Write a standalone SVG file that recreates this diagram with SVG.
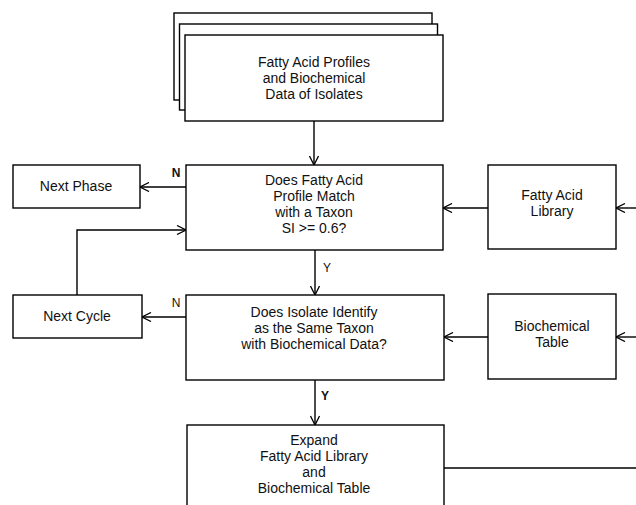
<svg xmlns="http://www.w3.org/2000/svg" width="636" height="505" viewBox="0 0 636 505">
<defs>
<marker id="arr" viewBox="0 0 10 10" refX="10" refY="5" markerWidth="10" markerHeight="10" markerUnits="userSpaceOnUse" orient="auto">
<path d="M1,0.5 L10,5 L1,9.5" fill="none" stroke="#000" stroke-width="1.3"/>
</marker>
<style>
rect{fill:#fff;stroke:#000;stroke-width:1.4}
.c line,.c path{stroke:#000;stroke-width:1.4;fill:none}
text{font-family:"Liberation Sans",Arial,sans-serif;font-size:14px;fill:#111;text-anchor:middle}
.lbl{font-weight:bold;font-size:12px}
</style>
</defs>
<rect x="0" y="0" width="636" height="505" style="fill:#fff;stroke:none"/>
<g id="isolates">
<rect x="174" y="13" width="258" height="87"/>
<rect x="179.5" y="24" width="258" height="86"/>
<rect x="185" y="35" width="258" height="86"/>
<text x="314" y="67">Fatty Acid Profiles</text>
<text x="314" y="83">and Biochemical</text>
<text x="314" y="99">Data of Isolates</text>
</g>
<g id="decision1">
<rect x="186" y="165" width="257" height="85"/>
<text x="314" y="185">Does Fatty Acid</text>
<text x="314" y="201">Profile Match</text>
<text x="314" y="217">with a Taxon</text>
<text x="314" y="233">SI &gt;= 0.6?</text>
</g>
<g id="nextphase">
<rect x="13" y="165" width="127" height="43"/>
<text x="76" y="191">Next  Phase</text>
</g>
<g id="falibrary">
<rect x="488" y="165" width="128" height="84"/>
<text x="552" y="200">Fatty Acid</text>
<text x="552" y="216">Library</text>
</g>
<g id="decision2">
<rect x="186" y="295" width="258" height="85"/>
<text x="314" y="317">Does Isolate Identify</text>
<text x="314" y="333">as the Same Taxon</text>
<text x="314" y="349">with Biochemical Data?</text>
</g>
<g id="nextcycle">
<rect x="13" y="295" width="129" height="43"/>
<text x="77" y="321">Next Cycle</text>
</g>
<g id="biotable">
<rect x="488" y="294" width="128" height="85"/>
<text x="552" y="331">Biochemical</text>
<text x="552" y="347">Table</text>
</g>
<g id="expand">
<rect x="187" y="425" width="257" height="90"/>
<text x="314" y="445">Expand</text>
<text x="314" y="461">Fatty Acid Library</text>
<text x="314" y="477">and</text>
<text x="314" y="493">Biochemical Table</text>
</g>
<g class="c" id="connectors">
<line x1="314" y1="121" x2="314" y2="165" marker-end="url(#arr)"/>
<line x1="186" y1="187" x2="140" y2="187" marker-end="url(#arr)"/>
<path d="M77,295 V230 H186" marker-end="url(#arr)"/>
<line x1="488" y1="208" x2="443" y2="208" marker-end="url(#arr)"/>
<line x1="636" y1="208" x2="616" y2="208" marker-end="url(#arr)"/>
<line x1="315" y1="250" x2="315" y2="295" marker-end="url(#arr)"/>
<line x1="186" y1="317" x2="142" y2="317" marker-end="url(#arr)"/>
<line x1="488" y1="337" x2="444" y2="337" marker-end="url(#arr)"/>
<line x1="636" y1="337" x2="616" y2="337" marker-end="url(#arr)"/>
<line x1="315" y1="380" x2="315" y2="425" marker-end="url(#arr)"/>
<line x1="444" y1="468" x2="636" y2="468"/>
<text class="lbl" x="176" y="177">N</text>
<text class="lbl" x="176" y="307" style="font-weight:normal">N</text>
<text class="lbl" x="327" y="272" style="font-weight:normal">Y</text>
<text class="lbl" x="325" y="400">Y</text>
</g>
</svg>
